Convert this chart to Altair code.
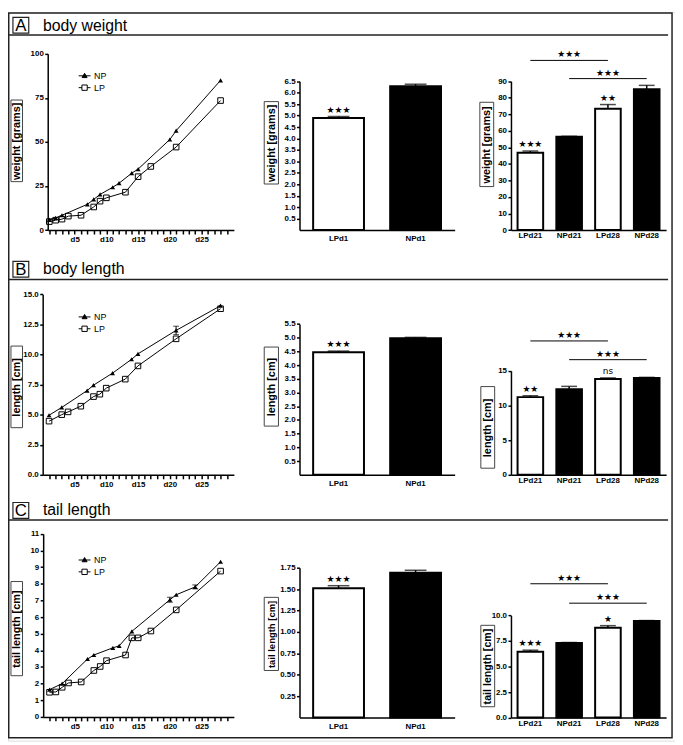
import altair as alt
import pandas as pd

OX, OY = 8, 8          # page margin: reference pixel -> chart pixel
W, H = 675, 737
FONT = "Liberation Sans, Arial, Helvetica, sans-serif"
STARFONT = "DejaVu Sans, Liberation Sans, sans-serif"

# ---------------- data ----------------
section_letters = ["A", "B", "C"]
section_titles = ["body weight", "body length", "tail length"]
axis_titles = ["weight [grams]", "length [cm]", "tail length [cm]"]
series_names = ["NP", "LP"]
day_ticks = list(range(1, 30))
d1_cats = ["LPd1", "NPd1"]
d28_cats = ["LPd21", "NPd21", "LPd28", "NPd28"]

A_np_day = [1, 2, 3, 7, 8, 9, 11, 12, 14, 15, 20, 21, 28]
A_np_val = [5.8, 6.9, 8.4, 14.6, 17.4, 20.2, 24.3, 26.6, 32.3, 34.6, 51.4, 56.4, 85.0]
A_lp_day = [1, 2, 3, 4, 6, 8, 9, 10, 13, 15, 17, 21, 28]
A_lp_val = [4.8, 5.6, 6.2, 7.9, 8.4, 13.1, 16.4, 18.3, 21.5, 30.3, 36.1, 47.1, 73.5]
A_np_err_day = []
A_np_err = []
A_d1_mean = [4.89, 6.28]
A_d1_err = [0.07, 0.09]
A_d1_sig = ["★★★", ""]
A_d28_mean = [46.8, 56.4, 73.3, 85.2]
A_d28_err = [1.0, 0.3, 2.6, 2.3]
A_d28_sig = ["★★★", "", "★★", ""]
A_cmp_start = ["LPd21", "NPd21"]
A_cmp_end = ["LPd28", "NPd28"]
A_cmp_mid = ["NPd21", "LPd28"]
A_cmp_level = [102.6, 91.6]
A_cmp_sig = ["★★★", "★★★"]

B_np_day = [1, 3, 7, 8, 11, 14, 15, 21, 28]
B_np_val = [4.95, 5.6, 7.0, 7.45, 8.45, 9.6, 10.05, 12.0, 14.05]
B_lp_day = [1, 3, 4, 6, 8, 9, 10, 13, 15, 21, 28]
B_lp_val = [4.46, 5.0, 5.23, 5.7, 6.5, 6.7, 7.2, 7.95, 9.05, 11.3, 13.8]
B_np_err_day = [21]
B_np_err = [0.35]
B_d1_mean = [4.47, 4.98]
B_d1_err = [0.04, 0.03]
B_d1_sig = ["★★★", ""]
B_d28_mean = [11.2, 12.35, 13.82, 13.95]
B_d28_err = [0.2, 0.4, 0.15, 0.1]
B_d28_sig = ["★★", "", "ns", ""]
B_cmp_start = ["LPd21", "NPd21"]
B_cmp_end = ["LPd28", "NPd28"]
B_cmp_mid = ["NPd21", "LPd28"]
B_cmp_level = [19.3, 16.6]
B_cmp_sig = ["★★★", "★★★"]

C_np_day = [1, 3, 7, 8, 11, 12, 14, 20, 21, 24, 28]
C_np_val = [1.64, 2.0, 3.48, 3.72, 4.15, 4.27, 5.14, 7.04, 7.34, 7.81, 9.32]
C_lp_day = [1, 2, 3, 4, 6, 8, 9, 10, 13, 14, 15, 17, 21, 28]
C_lp_val = [1.48, 1.5, 1.78, 2.04, 2.1, 2.79, 3.03, 3.38, 3.72, 4.75, 4.75, 5.16, 6.43, 8.76]
C_np_err_day = [20, 24]
C_np_err = [0.15, 0.12]
C_d1_mean = [1.51, 1.69]
C_d1_err = [0.03, 0.03]
C_d1_sig = ["★★★", ""]
C_d28_mean = [6.45, 7.3, 8.8, 9.45]
C_d28_err = [0.15, 0.05, 0.2, 0.05]
C_d28_sig = ["★★★", "", "★", ""]
C_cmp_start = ["LPd21", "NPd21"]
C_cmp_end = ["LPd28", "NPd28"]
C_cmp_mid = ["NPd21", "LPd28"]
C_cmp_level = [13.1, 11.2]
C_cmp_sig = ["★★★", "★★★"]

# ---------------- layout (reference pixel positions) ----------------
LAYOUT = {
    "A": dict(
        line=dict(xr=(48.2, 236.6), xdom=(0.75, 30.1), yr=(228.3, 50.0), ydom=(0, 100),
                  yvals=[0, 25, 50, 75, 100], fmt="d", box=(11, 96.7, 22.7, 179.3), leg=(79, 65.7), tfs=11),
        d1=dict(xr=(303, 460), yr=(228.3, 77.7), ydom=(0, 6.5),
                yvals=[0.5 * i for i in range(1, 14)], fmt=".1f", box=(267.3, 98.3, 281.7, 181.7), tfs=11),
        d28=dict(xr=(517, 674), yr=(228.3, 77.7), ydom=(0, 90),
                 yvals=list(range(0, 91, 10)), fmt="d", box=(485.5, 99, 499.5, 184.3), tfs=11),
        head=dict(box=(13, 13, 29, 29), base=26.5, rule=31),
    ),
    "B": dict(
        line=dict(xr=(43.1, 236.6), xdom=(0, 30.1), yr=(476, 293.3), ydom=(0, 15),
                  yvals=[0, 2.5, 5, 7.5, 10, 12.5, 15], fmt=".1f", box=(11, 345.7, 22.7, 428.3),
                  leg=(79, 309.7), tfs=11),
        d1=dict(xr=(303, 460), yr=(476, 323.3), ydom=(0, 5.5),
                yvals=[0.5 * i for i in range(1, 12)], fmt=".1f", box=(267.3, 346.7, 281.7, 426.7), tfs=11),
        d28=dict(xr=(517, 674), yr=(476, 370.7), ydom=(0, 15),
                 yvals=[0, 5, 10, 15], fmt="d", box=(486.5, 386.7, 500.5, 469.3), tfs=11),
        head=dict(box=(13, 260, 29, 276), base=273, rule=278.3),
    ),
    "C": dict(
        line=dict(xr=(43.6, 236.6), xdom=(0, 30.1), yr=(721, 535.7), ydom=(0, 11),
                  yvals=list(range(0, 12)), fmt="d", box=(11, 584, 22.7, 679.3), leg=(79, 555.7), tfs=11),
        d1=dict(xr=(303, 460), yr=(721.7, 570), ydom=(0, 1.75),
                yvals=[0.25 * i for i in range(1, 8)], fmt=".2f", box=(267.3, 600, 281.7, 674), tfs=9.6),
        d28=dict(xr=(517, 674), yr=(721.7, 618.3), ydom=(0, 10),
                 yvals=[0, 2.5, 5, 7.5, 10], fmt=".1f", box=(486.5, 628.3, 500.5, 710.7), tfs=10.8),
        head=dict(box=(13, 504, 29, 520), base=517, rule=521.7),
    ),
}

AX = dict(grid=False, domainColor="black", domainWidth=1.5, tickColor="black", tickWidth=1.5,
          labelFont=FONT, labelFontSize=8, labelFontWeight="bold", labelColor="black",
          labelOverlap=False, labelFlush=False, zindex=1)

ONE = pd.DataFrame({"k": [0]})

NP_PATH = "M-1,0H1M0,-0.42L0.42,0.3L-0.42,0.3Z"
LP_PATH = "M-1,0H-0.45M0.45,0H1M-0.45,-0.45H0.45V0.45H-0.45Z"


def yaxis(x0, L, title):
    b = L["box"]
    bx, by = (b[0] + b[2]) / 2, (b[1] + b[3]) / 2
    return alt.Axis(orient="left", offset=-(x0 - OX), values=L["yvals"], format=L["fmt"],
                    tickSize=3, labelPadding=1.5, title=title, titleX=bx - x0, titleY=by - OY,
                    titleAngle=270, titleAlign="center", titleBaseline="middle",
                    titleFont=FONT, titleFontSize=L["tfs"], titleFontWeight="bold", titleColor="black", **AX)


def yscale(L):
    return alt.Scale(domain=list(L["ydom"]), range=[L["yr"][0] - OY, L["yr"][1] - OY],
                     nice=False, zero=False)


def xscale_lin(L):
    return alt.Scale(domain=list(L["xdom"]), range=[L["xr"][0] - OX, L["xr"][1] - OX], nice=False, zero=False)


def xscale_band(cats, L, pi, po):
    return alt.Scale(type="band", domain=cats, range=[L["xr"][0] - OX, L["xr"][1] - OX],
                     paddingInner=pi, paddingOuter=po)


def line_axes(np_day, np_val, L, title):
    """Invisible layer that only carries the panel's two axes."""
    xax = alt.Axis(orient="bottom", offset=(L["yr"][0] - OY) - H, values=day_ticks,
                   labelExpr="datum.value % 5 === 0 ? 'd' + datum.value : ''",
                   tickSize=4, labelPadding=2, title=None, **AX)
    return alt.Chart(pd.DataFrame({"day": np_day, "v": np_val})).mark_point(opacity=0).encode(
        x=alt.X("day:Q", scale=xscale_lin(L), axis=xax),
        y=alt.Y("v:Q", scale=yscale(L), axis=yaxis(L["xr"][0], L, title)))


def bar_axes(cats, means, L, title, pi, po, xlp):
    xax = alt.Axis(orient="bottom", offset=(L["yr"][0] - OY) - H, ticks=False, tickSize=0,
                   labelPadding=xlp, labelAngle=0, title=None, **AX)
    return alt.Chart(pd.DataFrame({"cat": cats, "mean": means})).mark_point(opacity=0).encode(
        x=alt.X("cat:N", scale=xscale_band(cats, L, pi, po), axis=xax, sort=cats),
        y=alt.Y("mean:Q", scale=yscale(L), axis=yaxis(L["xr"][0], L, title)))


def line_panel(np_day, np_val, lp_day, lp_val, err_day, err, L):
    xs = xscale_lin(L)
    ys = yscale(L)
    np_df = pd.DataFrame({"day": np_day, "v": np_val})
    lp_df = pd.DataFrame({"day": lp_day, "v": lp_val})
    means = [np_val[np_day.index(d)] for d in err_day]
    e_df = pd.DataFrame({"day": err_day, "lo": [m - e for m, e in zip(means, err)],
                         "hi": [m + e for m, e in zip(means, err)]})
    xn = alt.X("day:Q", scale=xs, axis=None)
    base_np = alt.Chart(np_df)
    base_lp = alt.Chart(lp_df)
    layers = [
        base_np.mark_line(color="black", strokeWidth=1).encode(x=xn, y=alt.Y("v:Q", scale=ys, axis=None)),
        base_lp.mark_line(color="black", strokeWidth=1).encode(x=xn, y=alt.Y("v:Q", scale=ys, axis=None)),
    ]
    if err_day:
        be = alt.Chart(e_df)
        layers += [
            be.mark_rule(color="black", strokeWidth=1).encode(
                x=xn, y=alt.Y("lo:Q", scale=ys, axis=None), y2="hi:Q"),
            be.mark_tick(orient="horizontal", size=6, thickness=1, color="black").encode(
                x=xn, y=alt.Y("hi:Q", scale=ys, axis=None)),
            be.mark_tick(orient="horizontal", size=6, thickness=1, color="black").encode(
                x=xn, y=alt.Y("lo:Q", scale=ys, axis=None)),
        ]
    layers += [
        base_lp.mark_point(shape="square", filled=False, stroke="black", strokeWidth=1, size=32, opacity=1).encode(
            x=xn, y=alt.Y("v:Q", scale=ys, axis=None)),
        base_np.mark_point(shape="triangle-up", filled=True, color="black", size=24, opacity=1).encode(
            x=xn, y=alt.Y("v:Q", scale=ys, axis=None)),
    ]
    lx, ly = L["leg"]
    leg = dict(orient="none", legendX=lx - OX, legendY=ly - OY, title=None, labelFont=FONT,
               labelFontSize=9, labelColor="black", symbolSize=144, symbolStrokeWidth=1,
               symbolOpacity=1, rowPadding=0, labelOffset=3, padding=0)
    legend_layer = alt.Chart(pd.DataFrame({"series": series_names})).transform_filter("false").mark_point(
        filled=True, strokeWidth=1, opacity=1).encode(
        x=alt.value(0), y=alt.value(0),
        shape=alt.Shape("series:N", scale=alt.Scale(domain=series_names, range=[NP_PATH, LP_PATH]),
                        legend=alt.Legend(**leg)),
        fill=alt.Fill("series:N", scale=alt.Scale(domain=series_names, range=["black", "white"]),
                      legend=alt.Legend(**leg)),
        stroke=alt.Stroke("series:N", scale=alt.Scale(domain=series_names, range=["black", "black"]),
                          legend=alt.Legend(**leg)),
    )
    layers.append(legend_layer)
    return alt.layer(*layers)


def bar_panel(cats, means, errs, sigs, L, pi, po, capw, cmp=None):
    xs = xscale_band(cats, L, pi, po)
    ys = yscale(L)
    df = pd.DataFrame({"cat": cats, "mean": means,
                       "top": [m + e for m, e in zip(means, errs)], "sig": sigs})
    base = alt.Chart(df).transform_calculate(grp="substring(datum.cat, 0, 2)")
    xn = alt.X("cat:N", scale=xs, axis=None, sort=cats)
    layers = [
        base.mark_rule(color="black", strokeWidth=1.5).encode(
            x=xn, y=alt.Y("mean:Q", scale=ys, axis=None), y2="top:Q"),
        base.mark_tick(orient="horizontal", size=capw, thickness=1.5, color="black").encode(
            x=xn, y=alt.Y("top:Q", scale=ys, axis=None)),
        base.mark_bar(stroke="black", strokeWidth=2).encode(
            x=xn, y=alt.Y("mean:Q", scale=ys, axis=None),
            fill=alt.Fill("grp:N", scale=alt.Scale(domain=["LP", "NP"], range=["white", "black"]), legend=None)),
        base.mark_text(font=STARFONT, fontSize=9, baseline="middle", color="black", dy=-7).encode(
            x=xn, y=alt.Y("top:Q", scale=ys, axis=None), text="sig:N"),
    ]
    if cmp is not None:
        cb = alt.Chart(pd.DataFrame(cmp))
        layers += [
            cb.mark_rule(color="black", strokeWidth=1).encode(
                x=alt.X("start:N", scale=xs, axis=None, bandPosition=0.5),
                x2=alt.X2("end:N", bandPosition=0.5),
                y=alt.Y("level:Q", scale=ys, axis=None)),
            cb.mark_text(font=STARFONT, fontSize=9, baseline="middle", color="black", dy=-6).encode(
                x=alt.X("mid:N", scale=xs, axis=None), y=alt.Y("level:Q", scale=ys, axis=None), text="sig:N"),
        ]
    return alt.layer(*layers)


def deco_rect(x1, y1, x2, y2, sw=1.0, color="black"):
    return alt.Chart(ONE).mark_rect(fillOpacity=0, stroke=color, strokeWidth=sw).encode(
        x=alt.value(x1 - OX), x2=alt.value(x2 - OX), y=alt.value(y1 - OY), y2=alt.value(y2 - OY))


def header(letter, text, H_):
    b = H_["box"]
    c = alt.Chart(pd.DataFrame({"letter": [letter], "title": [text]}))
    return alt.layer(
        deco_rect(*b, sw=1.2, color="#222"),
        c.mark_text(font=FONT, fontSize=17, align="center", baseline="middle", color="black").encode(
            x=alt.value((b[0] + b[2]) / 2 - OX), y=alt.value((b[1] + b[3]) / 2 + 0.5 - OY), text="letter:N"),
        c.mark_text(font=FONT, fontSize=16, align="left", baseline="alphabetic", color="black").encode(
            x=alt.value(43.3 - OX), y=alt.value(H_["base"] - OY), text="title:N"),
        alt.Chart(ONE).mark_rule(color="#222", strokeWidth=1.5).encode(
            x=alt.value(0), x2=alt.value(668), y=alt.value(H_["rule"] - OY)),
    )


sections = {
    "A": (A_np_day, A_np_val, A_lp_day, A_lp_val, A_np_err_day, A_np_err,
          A_d1_mean, A_d1_err, A_d1_sig, A_d28_mean, A_d28_err, A_d28_sig,
          dict(start=A_cmp_start, end=A_cmp_end, mid=A_cmp_mid, level=A_cmp_level, sig=A_cmp_sig)),
    "B": (B_np_day, B_np_val, B_lp_day, B_lp_val, B_np_err_day, B_np_err,
          B_d1_mean, B_d1_err, B_d1_sig, B_d28_mean, B_d28_err, B_d28_sig,
          dict(start=B_cmp_start, end=B_cmp_end, mid=B_cmp_mid, level=B_cmp_level, sig=B_cmp_sig)),
    "C": (C_np_day, C_np_val, C_lp_day, C_lp_val, C_np_err_day, C_np_err,
          C_d1_mean, C_d1_err, C_d1_sig, C_d28_mean, C_d28_err, C_d28_sig,
          dict(start=C_cmp_start, end=C_cmp_end, mid=C_cmp_mid, level=C_cmp_level, sig=C_cmp_sig)),
}

P1 = (0.34, 0.177)   # band padding, day-1 panels
P2 = (0.34, 0.17)    # band padding, day-21/28 panels

panels = [deco_rect(8.75, 8.75, 680, 742, sw=1.5, color="#222")]
for i, key in enumerate(section_letters):
    (npd, npv, lpd, lpv, ed, ee, m1, e1, s1, m2, e2, s2, cmp) = sections[key]
    L = LAYOUT[key]
    title = axis_titles[i]
    panels.append(header(key, section_titles[i], L["head"]))
    for part in ("line", "d1", "d28"):
        panels.append(deco_rect(*L[part]["box"], sw=1, color="#444"))
    panels.append(line_panel(npd, npv, lpd, lpv, ed, ee, L["line"]))
    panels.append(bar_panel(d1_cats, m1, e1, s1, L["d1"], *P1, 22))
    panels.append(bar_panel(d28_cats, m2, e2, s2, L["d28"], *P2, 16, cmp=cmp))
    # axis carriers (flat, independent)
    panels.append(line_axes(npd, npv, L["line"], title))
    panels.append(bar_axes(d1_cats, m1, L["d1"], title, *P1, 5))
    panels.append(bar_axes(d28_cats, m2, L["d28"], title, *P2, 2))

chart = alt.layer(*panels).resolve_scale(
    x="independent", y="independent", fill="independent", shape="independent", stroke="independent"
).properties(
    width=W, height=H, autosize=alt.AutoSizeParams(type="none"), padding=0
).configure_view(strokeWidth=0).configure(background="white")

chart.save("out.html", embed_options={"renderer": "svg", "actions": False})
